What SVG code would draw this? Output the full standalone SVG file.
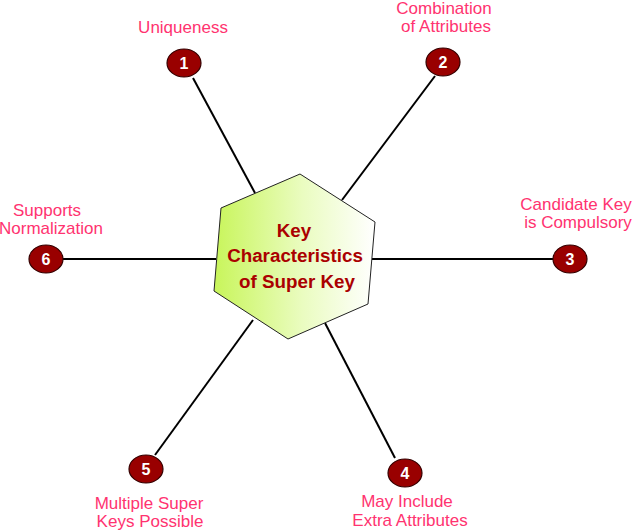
<svg xmlns="http://www.w3.org/2000/svg" width="632" height="531" viewBox="0 0 632 531">
<style>
.lbl{font-family:"Liberation Sans",Arial,sans-serif;font-size:17px;fill:#ff3370;text-anchor:middle}
.num{font-family:"Liberation Sans",Arial,sans-serif;font-size:16px;font-weight:bold;fill:#ffffff;text-anchor:middle}
.dot{fill:#990000;stroke:#330000;stroke-width:1.2}
.ctr{font-family:"Liberation Sans",Arial,sans-serif;font-size:18.8px;font-weight:bold;fill:#aa0000;text-anchor:middle}
.con{stroke:#000;stroke-width:2;fill:none}
</style>
<defs>
<linearGradient id="g" x1="0" y1="0" x2="1" y2="0">
<stop offset="0" stop-color="#c8f55a"/>
<stop offset="0.55" stop-color="#eafcc0"/>
<stop offset="1" stop-color="#ffffff"/>
</linearGradient>
</defs>
<rect width="632" height="531" fill="#ffffff"/>
<g id="connectors">
<line class="con" x1="193" y1="78" x2="255" y2="193"/>
<line class="con" x1="435" y1="76" x2="342" y2="200"/>
<line class="con" x1="372" y1="259" x2="553" y2="259"/>
<line class="con" x1="395" y1="458" x2="325" y2="323"/>
<line class="con" x1="155" y1="455" x2="253" y2="320"/>
<line class="con" x1="63" y1="259" x2="216" y2="259"/>
</g>
<g id="center">
<polygon points="300,174 375,222 368,304 288,339 214,291 221,208" fill="url(#g)" stroke="#222" stroke-width="1"/>
<text class="ctr" x="294" y="237">Key</text>
<text class="ctr" x="295" y="262">Characteristics</text>
<text class="ctr" x="297" y="288">of Super Key</text>
</g>
<g id="n1">
<ellipse class="dot" cx="184" cy="63" rx="17" ry="14"/>
<text class="num" x="184" y="69">1</text>
<text class="lbl" x="183" y="33">Uniqueness</text>
</g>
<g id="n2">
<ellipse class="dot" cx="443" cy="62" rx="17" ry="14"/>
<text class="num" x="443" y="68">2</text>
<text class="lbl" x="444" y="14">Combination</text>
<text class="lbl" x="446" y="32">of Attributes</text>
</g>
<g id="n3">
<ellipse class="dot" cx="570" cy="259" rx="17" ry="14"/>
<text class="num" x="570" y="265">3</text>
<text class="lbl" x="576" y="210">Candidate Key</text>
<text class="lbl" x="578" y="228">is Compulsory</text>
</g>
<g id="n4">
<ellipse class="dot" cx="405" cy="473" rx="17" ry="14"/>
<text class="num" x="405" y="479">4</text>
<text class="lbl" x="407" y="507">May Include</text>
<text class="lbl" x="410" y="526">Extra Attributes</text>
</g>
<g id="n5">
<ellipse class="dot" cx="146" cy="469" rx="17" ry="14"/>
<text class="num" x="146" y="475">5</text>
<text class="lbl" x="149" y="509">Multiple Super</text>
<text class="lbl" x="150" y="527">Keys Possible</text>
</g>
<g id="n6">
<ellipse class="dot" cx="46" cy="259" rx="17" ry="14"/>
<text class="num" x="46" y="265">6</text>
<text class="lbl" x="47" y="216">Supports</text>
<text class="lbl" x="51" y="234">Normalization</text>
</g>
</svg>
